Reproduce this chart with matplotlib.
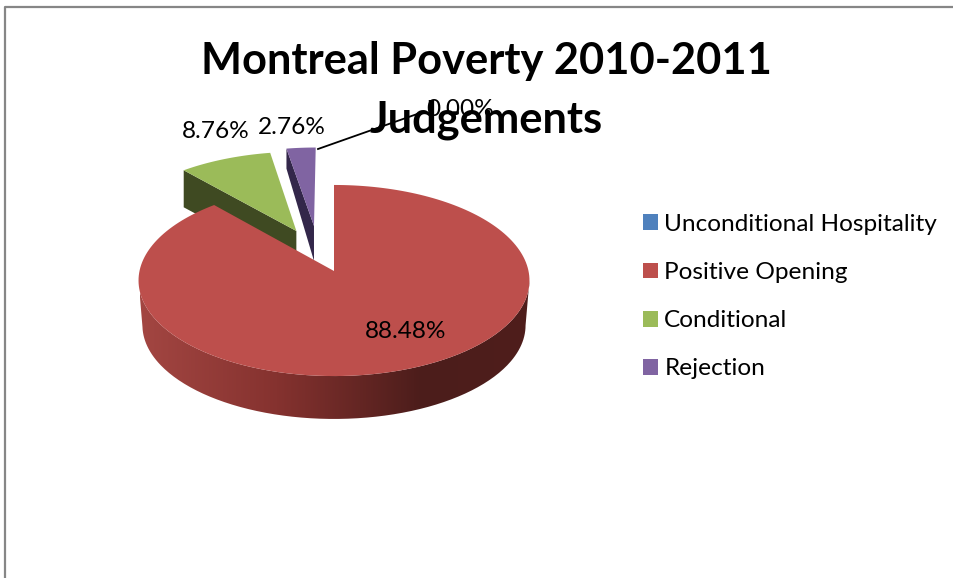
import numpy as np
import matplotlib
matplotlib.use('Agg')
import matplotlib.pyplot as plt
from matplotlib.colors import LinearSegmentedColormap
from matplotlib.patches import Patch, PathPatch, Polygon
from matplotlib.path import Path

## 데이터
categories = ['Unconditional Hospitality', 'Positive Opening', 'Conditional', 'Rejection']
values = [0.00, 88.48, 8.76, 2.76]
title_lines = ['Montreal Poverty 2010-2011', 'Judgements']

colors = ['#4F81BD', '#BD4F4C', '#9BBB59', '#8064A2']
side_colors = [None, None, '#3F4A22', '#33274A']

## pie projection (unit disc -> pixel)
CX, CY = 334, 271
RX, RY = 194.5, 94.6
K = 0.0995

## explode offset in disc units, side depth (outer, apex)
explode = {2: (-0.202, 0.4415), 3: (-0.108, 0.5)}
depth = {2: (37, 37), 3: (20, 35)}

plt.rcParams['font.family'] = ['Lato', 'DejaVu Sans']


def project(x, y, scale=1.0, dy=0.0):
    w = 1 + K * y
    return CX + scale * RX * x / w, CY + dy - scale * RY * y / w


def arc(a0, a1, offset=(0, 0), scale=1.0, dy=0.0, n=200):
    ## angles clockwise from 12 o'clock, degrees
    t = np.radians(np.linspace(a0, a1, n))
    X, Y = project(np.sin(t) + offset[0], np.cos(t) + offset[1], scale, dy)
    return np.column_stack([X, Y])


fig = plt.figure(figsize=(9.54, 5.78), dpi=100)
ax = fig.add_axes([0, 0, 1, 1])

## slice angles
shares = np.array(values) / sum(values) * 360
ends = np.cumsum(shares)
starts = ends - shares

## exploded slices, behind the big one
for i in [2, 3]:
    off = explode[i]
    top = arc(starts[i], ends[i], off)
    apex = np.array(project(off[0], off[1]))
    d_outer, d_apex = depth[i]
    ## visible wall : first radial edge
    corner = top[0]
    wall = [corner, apex, apex + [0, d_apex], corner + [0, d_outer]]
    ax.add_patch(Polygon(wall, closed=True, fc=side_colors[i], ec='none', zorder=2))
    ax.add_patch(Polygon(np.vstack([top, apex]), closed=True, fc=colors[i], ec='none', zorder=3))

## big slice side with gradient, between the widest points of the ellipse
widest = np.degrees(np.arccos(-K))
side_top = arc(widest, 360 - widest)
side_bottom = arc(widest, 360 - widest, scale=0.98, dy=45)
side_path = Path(np.vstack([side_top, side_bottom[::-1], side_top[:1]]))
side_patch = PathPatch(side_path, fc='none', ec='none', zorder=4)
ax.add_patch(side_patch)
side_cmap = LinearSegmentedColormap.from_list(
    'side', [(0, '#A34642'), (0.35, '#85322F'), (0.72, '#4C1D1B'), (1, '#4F1E1C')])
im = ax.imshow(np.linspace(0, 1, 256)[None, :], cmap=side_cmap, extent=[140, 531, 430, 200],
               aspect='auto', zorder=4)
im.set_clip_path(side_patch)

## big slice top
top = arc(starts[1], ends[1])
ax.add_patch(Polygon(np.vstack([top, project(0, 0)]), closed=True, fc=colors[1], ec='none', zorder=5))

## data labels
label_font = 17.6
label_pos = {0: (460, 110), 1: (406, 332), 2: (216, 132), 3: (292, 127)}
for i, v in enumerate(values):
    ax.text(label_pos[i][0], label_pos[i][1], '%.2f%%' % v, fontsize=label_font, color='black',
            ha='center', va='center', zorder=7)
ax.plot([318, 420], [149, 113], color='black', lw=1.3, zorder=6)

## title
ax.text(486, 61, title_lines[0], fontsize=31.2, fontweight='bold', ha='center', va='center', zorder=8)
ax.text(486, 120, title_lines[1], fontsize=31.2, fontweight='bold', ha='center', va='center', zorder=8)

## legend
handles = [Patch(fc=c, ec='none') for c in colors]
ax.legend(handles, categories, loc='upper left', bbox_to_anchor=(643, 214), bbox_transform=ax.transData,
          frameon=False, fontsize=17.6, handlelength=0.62, handleheight=0.62, handletextpad=0.25,
          labelspacing=1.11, borderpad=0, borderaxespad=0)

## chart border
ax.plot([5.5, 5.5, 954], [578, 6.5, 6.5], color='#868686', lw=1.6, zorder=1)

ax.set_xlim(0, 954)
ax.set_ylim(578, 0)
ax.axis('off')

plt.savefig('out.png', dpi=100)
